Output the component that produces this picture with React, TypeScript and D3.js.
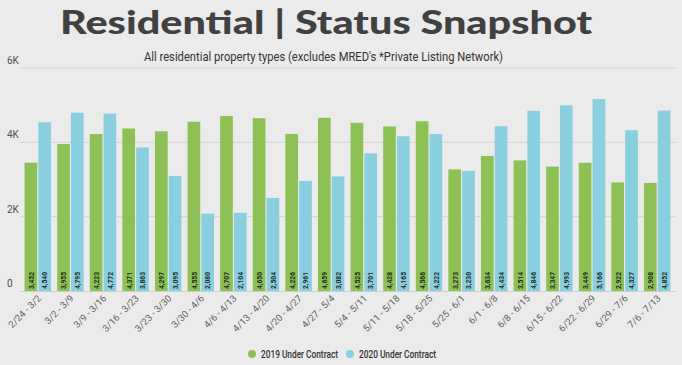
import React from "react";
import * as d3 from "d3";

const weeks = [
  "2/24 - 3/2", "3/2 - 3/9", "3/9 - 3/16", "3/16 - 3/23", "3/23 - 3/30",
  "3/30 - 4/6", "4/6 - 4/13", "4/13 - 4/20", "4/20 - 4/27", "4/27 - 5/4",
  "5/4 - 5/11", "5/11 - 5/18", "5/18 - 5/25", "5/25 - 6/1", "6/1 - 6/8",
  "6/8 - 6/15", "6/15 - 6/22", "6/22 - 6/29", "6/29 - 7/6", "7/6 - 7/13",
];
const contract2019 = [
  3452, 3955, 4223, 4371, 4297, 4555, 4707, 4650, 4226, 4659,
  4525, 4428, 4566, 3273, 3634, 3514, 3347, 3449, 2922, 2908,
];
const contract2020 = [
  4540, 4795, 4772, 3863, 3095, 2080, 2104, 2504, 2961, 3082,
  3701, 4165, 4222, 3230, 4434, 4846, 4993, 5166, 4327, 4852,
];
const seriesNames = ["2019 Under Contract", "2020 Under Contract"];
const yTicks = [0, 2000, 4000, 6000];

const W = 682;
const H = 365;
const colors = ["#8dc156", "#89cfe0"];

const App = () => {
  const x0 = d3.scaleBand<string>()
    .domain(weeks)
    .range([21.5, 673.5])
    .paddingInner(0.12)
    .paddingOuter(0.06);
  const x1 = d3.scaleBand<string>()
    .domain(seriesNames)
    .range([0, x0.bandwidth()])
    .padding(0.08);
  const y = d3.scaleLinear().domain([0, 6000]).range([291, 68]);
  const fmt = d3.format(",");
  const kfmt = (d: number) => (d === 0 ? "0" : d / 1000 + "K");

  const series = [contract2019, contract2020];

  return (
    <div style={{ position: "fixed", left: 0, top: 0 }}>
      <svg width={W} height={H} style={{ display: "block", background: "#ebebeb" }}>
        <text x={60} y={34} fontFamily="Lato, sans-serif"
          fontWeight={900} fontSize={32} fill="#414141" textLength={532}
          lengthAdjust="spacingAndGlyphs">
          Residential | Status Snapshot
        </text>
        <text x={144} y={61} fontFamily="Roboto, sans-serif"
          fontSize={13.5} fill="#333" textLength={359} lengthAdjust="spacingAndGlyphs">
          All residential property types (excludes MRED's *Private Listing Network)
        </text>

        {/* grid + y axis */}
        {yTicks.map((t) => (
          <g key={t}>
            {t > 0 && (
              <line x1={20} x2={676} y1={y(t)} y2={y(t)} stroke="#d4d4d4" strokeWidth={1} />
            )}
            <text x={7} y={y(t) - 4} fontFamily="Roboto, sans-serif" fontSize={10}
              fill="#505050">{kfmt(t)}</text>
          </g>
        ))}
        <line x1={20} x2={676} y1={y(0) + 0.5} y2={y(0) + 0.5} stroke="#cfcfcf" />

        {/* bars */}
        {weeks.map((w, i) => (
          <g key={w} transform={`translate(${x0(w)},0)`}>
            {series.map((s, j) => {
              const bx = x1(seriesNames[j])!;
              const bw = x1.bandwidth();
              return (
                <g key={j}>
                  <rect x={bx} y={y(s[i])} width={bw} height={y(0) - y(s[i])} fill={colors[j]} />
                  <text transform={`translate(${bx + bw / 2 + 2.8},${y(0) - 2}) rotate(-90)`}
                    fontFamily="Roboto, sans-serif" fontWeight={700} fontSize={7.5}
                    fill="#1e2a1e" textLength={17} lengthAdjust="spacingAndGlyphs">
                    {fmt(s[i])}
                  </text>
                </g>
              );
            })}
          </g>
        ))}

        {/* x labels */}
        {weeks.map((w) => (
          <text key={w}
            transform={`translate(${x0(w)! + x0.bandwidth() / 2 + 4},${y(0) + 8}) rotate(-45)`}
            textAnchor="end" fontFamily="Roboto, sans-serif" fontSize={9.5} fill="#5f5f5f">
            {w}
          </text>
        ))}

        {/* legend */}
        {seriesNames.map((n, j) => (
          <g key={n} transform={`translate(${252 + j * 98},354)`}>
            <circle r={4} fill={colors[j]} />
            <text x={9} y={3.5} fontFamily="Roboto, sans-serif" fontWeight={500}
              fontSize={10} fill="#333" textLength={77} lengthAdjust="spacingAndGlyphs">{n}</text>
          </g>
        ))}
      </svg>
    </div>
  );
};

export default App;
